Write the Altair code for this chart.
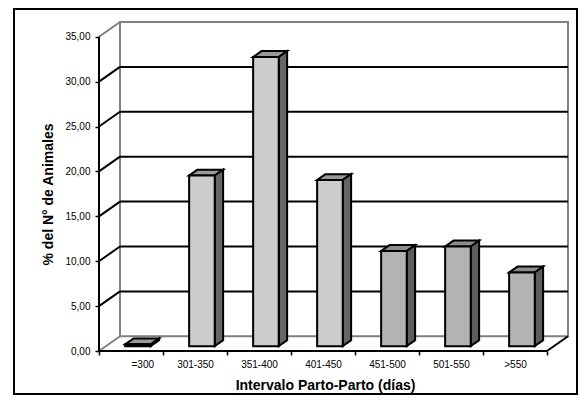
import json
import altair as alt
import pandas as pd

# ---- data ----
categories = ["=300", "301-350", "351-400", "401-450", "451-500", "501-550", ">550"]
values = [0.2, 19.0, 32.2, 18.5, 10.6, 11.1, 8.2]
groups = ["claro", "claro", "claro", "claro", "oscuro", "oscuro", "oscuro"]
y_ticks = [0, 5, 10, 15, 20, 25, 30, 35]

# ---- style constants (3D projection in data units) ----
DX, DY = 0.328, 1.64      # total depth of the chart box
F, D, W = 0.33, 0.40, 0.40  # bar front depth fraction, bar depth fraction, bar width
XMAX = len(categories)
YMAX = y_ticks[-1]
colors = {
    "claro": {"front": "#cccccc", "top": "#999999", "side": "#666666"},
    "oscuro": {"front": "#b3b3b3", "top": "#8c8c8c", "side": "#5c5c5c"},
}

rows, side_rows, top_rows = [], [], []
for i, (c, v, g) in enumerate(zip(categories, values, groups)):
    xl = i + 0.5 + F * DX - W / 2
    xr = xl + W
    yb = F * DY
    yt = v + F * DY
    rows.append(dict(cat=c, xl=xl, xr=xr, yb=yb, yt=yt, fill=colors[g]["front"]))
    side_rows.append(dict(cat=c, x=xr, y=yt, y2=yb, fill=colors[g]["side"]))
    side_rows.append(dict(cat=c, x=xr + D * DX, y=yt + D * DY, y2=yb + D * DY, fill=colors[g]["side"]))
    top_rows.append(dict(cat=c, y=yt, x=xl, x2=xr, fill=colors[g]["top"]))
    top_rows.append(dict(cat=c, y=yt + D * DY, x=xl + D * DX, x2=xr + D * DX, fill=colors[g]["top"]))
front_df = pd.DataFrame(rows)
side_df = pd.DataFrame(side_rows)
top_df = pd.DataFrame(top_rows)

# wall lines
grid_df = pd.DataFrame([dict(x=DX, x2=DX + XMAX, y=t + DY, y2=t + DY) for t in y_ticks[1:-1]])
diag_df = pd.DataFrame([dict(x=0, x2=DX, y=t, y2=t + DY, col=("#808080" if t in (0, YMAX) else "black"))
                        for t in y_ticks])
wall_df = pd.DataFrame([dict(x=DX, x2=DX + XMAX, y=DY, y2=YMAX + DY)])
axes_df = pd.DataFrame([
    dict(x=0, x2=XMAX, y=0, y2=0),          # front x axis
    dict(x=0, x2=0, y=0, y2=YMAX),          # front y axis
    dict(x=XMAX, x2=XMAX + DX, y=0, y2=DY),  # right floor edge
])

FONT = "Liberation Sans"
xs = alt.Scale(domain=[0, XMAX + DX], nice=False, zero=False)
ys = alt.Scale(domain=[0, YMAX + DY], nice=False, zero=False)

label_arr = json.dumps(categories)
x_axis = alt.Axis(
    values=list(range(XMAX + 1)), labelExpr=f"datum.value < {XMAX} ? {label_arr}[datum.value] : ''",
    labelOffset=32, domain=False, grid=False, ticks=True, tickSize=4, tickWidth=1.5, tickColor="black",
    labelFont=FONT, labelFontSize=10, labelColor="black", labelPadding=4,
    title="Intervalo Parto-Parto (días)", titleFont=FONT, titleFontSize=14, titleFontWeight="bold",
    titleColor="black", titleX=226, titleY=34, titleBaseline="middle", titleAnchor="middle",
)
y_axis = alt.Axis(
    values=y_ticks, labelExpr="replace(format(datum.value, '.2f'), '.', ',')",
    domain=False, grid=False, ticks=True, tickSize=4, tickWidth=1.5, tickColor="black",
    labelFont=FONT, labelFontSize=10, labelColor="black", labelPadding=5,
    title="% del N° de Animales", titleFont=FONT, titleFontSize=14, titleFontWeight="bold",
    titleColor="black", titleX=-51, titleY=172, titleBaseline="middle", titleAnchor="middle",
)


def X(f):
    return alt.X(f, type="quantitative", scale=xs, axis=x_axis)


def Y(f):
    return alt.Y(f, type="quantitative", scale=ys, axis=y_axis)


frame = alt.Chart(pd.DataFrame([{"k": 1}])).mark_rect(
    fill="white", fillOpacity=0, stroke="black", strokeWidth=2
).encode(x=alt.value(-85), x2=alt.value(478), y=alt.value(-13), y2=alt.value(372))

wall = alt.Chart(wall_df).mark_rect(fill="white", stroke="#808080", strokeWidth=2).encode(
    x=X("x"), x2="x2", y=Y("y"), y2="y2")

grid = alt.Chart(grid_df).mark_rule(color="black", strokeWidth=2).encode(
    x=X("x"), x2="x2", y=Y("y"), y2="y2")

diag = alt.Chart(diag_df).mark_rule(strokeWidth=2).encode(
    x=X("x"), x2="x2", y=Y("y"), y2="y2", color=alt.Color("col:N", scale=None))

tops = alt.Chart(top_df).mark_area(orient="horizontal", stroke="black", strokeWidth=2,
                                   strokeJoin="miter").encode(
    y=Y("y"), x=X("x"), x2="x2", detail="cat:N", fill=alt.Fill("fill:N", scale=None))

sides = alt.Chart(side_df).mark_area(orient="vertical", stroke="black", strokeWidth=2,
                                     strokeJoin="miter").encode(
    x=X("x"), y=Y("y"), y2="y2", detail="cat:N", fill=alt.Fill("fill:N", scale=None))

fronts = alt.Chart(front_df).mark_rect(stroke="black", strokeWidth=2, strokeJoin="miter").encode(
    x=X("xl"), x2="xr", y=Y("yb"), y2="yt", fill=alt.Fill("fill:N", scale=None))

axes_lines = alt.Chart(axes_df).mark_rule(color="black", strokeWidth=2).encode(
    x=X("x"), x2="x2", y=Y("y"), y2="y2")

chart = alt.layer(frame, wall, grid, diag, tops, sides, fronts, axes_lines).properties(
    width=469, height=329,
    autosize=alt.AutoSizeParams(type="none"),
    padding={"left": 91, "top": 14, "right": 11, "bottom": 49},
    background="white",
).configure_view(stroke=None)

chart.save("out.html", embed_options={"renderer": "svg", "actions": False})
